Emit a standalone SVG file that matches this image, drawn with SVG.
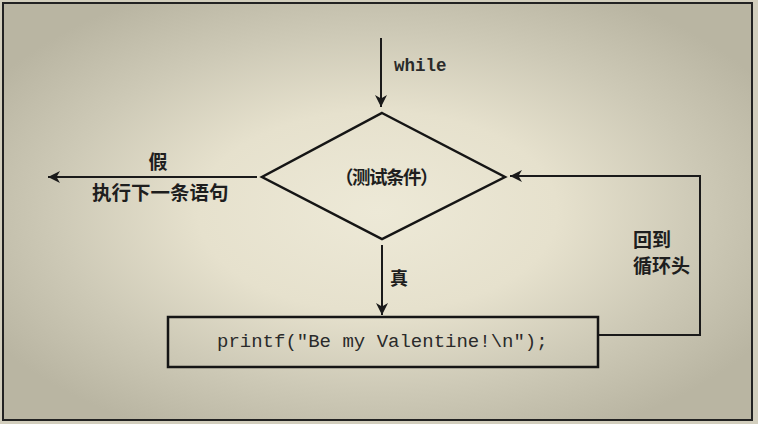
<svg xmlns="http://www.w3.org/2000/svg" width="758" height="424" viewBox="0 0 758 424">
  <defs>
    <radialGradient id="bg" cx="0.5" cy="0.5" r="0.6">
      <stop offset="0" stop-color="#ede9d7"/>
      <stop offset="0.4" stop-color="#e6e1cd"/>
      <stop offset="0.72" stop-color="#cdc9b6"/>
      <stop offset="1" stop-color="#b9b5a2"/>
    </radialGradient>
    <marker id="arr" markerUnits="userSpaceOnUse" markerWidth="14" markerHeight="12" refX="12" refY="6" orient="auto">
      <path d="M0,0 L12,6 L0,12 L3.5,6 z" fill="#1a1a1a"/>
    </marker>
    <style>
      .ln { fill: none; stroke: #1a1a1a; stroke-width: 2; }
      .shape { fill: none; stroke: #151515; stroke-width: 2.5; }
      .cjk { font-family: "Noto Sans CJK SC", "Noto Sans", sans-serif; font-weight: 700; fill: #1e1e1e; }
      .mono { font-family: "Liberation Mono", "DejaVu Sans Mono", monospace; fill: #2a2a2a; }
    </style>
  </defs>
  <rect x="0" y="0" width="758" height="424" fill="#d2cebd"/>
  <rect x="3" y="3" width="749" height="417" fill="url(#bg)" stroke="#222" stroke-width="2"/>

  <g id="connectors">
    <path class="ln" d="M381,38 V107" marker-end="url(#arr)"/>
    <path class="ln" d="M257,177 H48" marker-end="url(#arr)"/>
    <path class="ln" d="M382,245 V315" marker-end="url(#arr)"/>
    <path class="ln" d="M598,335 H700 V176 H510" marker-end="url(#arr)"/>
  </g>

  <g id="label-while">
    <text class="mono" x="394" y="71" font-size="17.5" font-weight="700">while</text>
  </g>

  <g id="node-condition">
    <polygon class="shape" points="382,113 505,177 382,239 262,177"/>
    <text class="cjk" x="386" y="184" font-size="18.5" letter-spacing="-1.5" text-anchor="middle">（测试条件）</text>
  </g>

  <g id="label-false">
    <text class="cjk" x="158" y="169" font-size="19" text-anchor="middle">假</text>
    <text class="cjk" x="92" y="200" font-size="19.5">执行下一条语句</text>
  </g>

  <g id="label-true">
    <text class="cjk" x="390" y="285" font-size="18">真</text>
  </g>

  <g id="label-loop">
    <text class="cjk" x="633" y="247" font-size="19">回到</text>
    <text class="cjk" x="633" y="273" font-size="19">循环头</text>
  </g>

  <g id="node-printf">
    <rect class="shape" x="168" y="317" width="430" height="50" fill="#e9e5d2"/>
    <text class="mono" x="217" y="347" font-size="19">printf("Be my Valentine!\n");</text>
  </g>
</svg>
